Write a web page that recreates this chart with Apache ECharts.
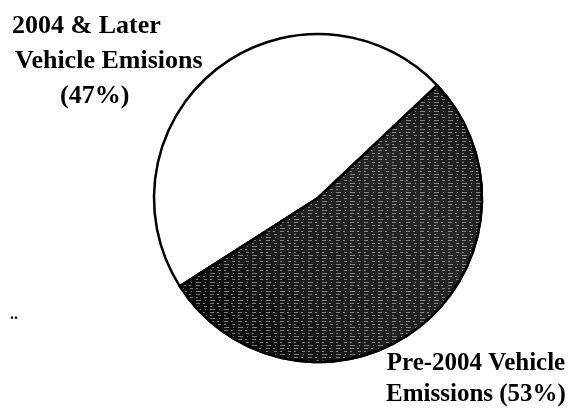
<!DOCTYPE html>
<html>
<head>
<meta charset="utf-8">
<style>
  html, body { margin: 0; padding: 0; background: #ffffff; }
  #chart { width: 573px; height: 417px; }
</style>
<script src="https://cdn.jsdelivr.net/npm/echarts@6/dist/echarts.min.js"></script>
</head>
<body>
<div id="chart"></div>
<script>
// Share of vehicle emissions by model year
const categories = ['2004 & Later\nVehicle Emisions', 'Pre-2004 Vehicle\nEmissions'];
const shares = [47, 53];

const fills = [
  '#ffffff',
  {
    type: 'linear', x: 0, y: 1, x2: 1, y2: 0,
    colorStops: [
      { offset: 0, color: '#000000' },
      { offset: 0.35, color: '#1c1c1c' },
      { offset: 0.7, color: '#262626' },
      { offset: 1, color: '#141414' }
    ]
  }
];

// Speckled screen over the darker slice
const screens = [
  null,
  {
    symbol: 'rect',
    symbolSize: 1,
    color: 'rgba(255,255,255,0.45)',
    dashArrayX: [[4, 3, 2, 5], [2, 6, 3, 3], [5, 4, 1, 4]],
    dashArrayY: [1, 2]
  }
];

const serifBold = { fontFamily: 'Liberation Serif', fontWeight: 'bold', color: '#000000' };

// Upper-left label: ragged block, last line indented
function newerLabel(name, value) {
  const lines = name.split('\n');
  return '{a|' + lines[0] + '}\n{b|' + lines[1] + '}\n{c|(' + value + '%)}';
}
// Lower-right label: centred two-line block
function olderLabel(name, value) {
  return name + ' (' + value + '%)';
}

const labelSetups = [
  {
    pos: { x: 12, y: 9, align: 'left' },
    label: {
      formatter: newerLabel(categories[0], shares[0]),
      fontSize: 26,
      lineHeight: 35,
      align: 'left',
      rich: {
        a: Object.assign({ fontSize: 26, lineHeight: 35 }, serifBold),
        b: Object.assign({ fontSize: 26, lineHeight: 35, padding: [0, 0, 0, 3] }, serifBold),
        c: Object.assign({ fontSize: 26, lineHeight: 35, padding: [0, 0, 0, 48] }, serifBold)
      }
    }
  },
  {
    pos: { x: 476, y: 348, align: 'center' },
    label: {
      formatter: olderLabel(categories[1], shares[1]),
      fontSize: 25,
      lineHeight: 31,
      align: 'center'
    }
  }
];

const chart = echarts.init(document.getElementById('chart'), null, { renderer: 'canvas' });

chart.setOption({
  backgroundColor: '#ffffff',
  animation: false,
  series: [{
    type: 'pie',
    center: [318, 198],
    radius: 164,
    startAngle: 212.6,
    clockwise: true,
    silent: true,
    itemStyle: { borderColor: '#000000', borderWidth: 2.5 },
    label: Object.assign({
      show: true,
      position: 'outside',
      verticalAlign: 'top',
      overflow: 'none'
    }, serifBold),
    labelLine: { show: false },
    labelLayout: function (p) {
      const s = labelSetups[p.dataIndex].pos;
      return { x: s.x, y: s.y, align: s.align, verticalAlign: 'top', width: 260 };
    },
    data: categories.map((name, i) => {
      const style = { color: fills[i] };
      if (screens[i]) style.decal = screens[i];
      return {
        name: name,
        value: shares[i],
        itemStyle: style,
        label: labelSetups[i].label
      };
    })
  }],
  graphic: [{
    type: 'text',
    left: 10,
    top: 307,
    style: { text: '..', font: 'bold 16px "Liberation Serif"', fill: '#000000' }
  }]
});
</script>
</body>
</html>
